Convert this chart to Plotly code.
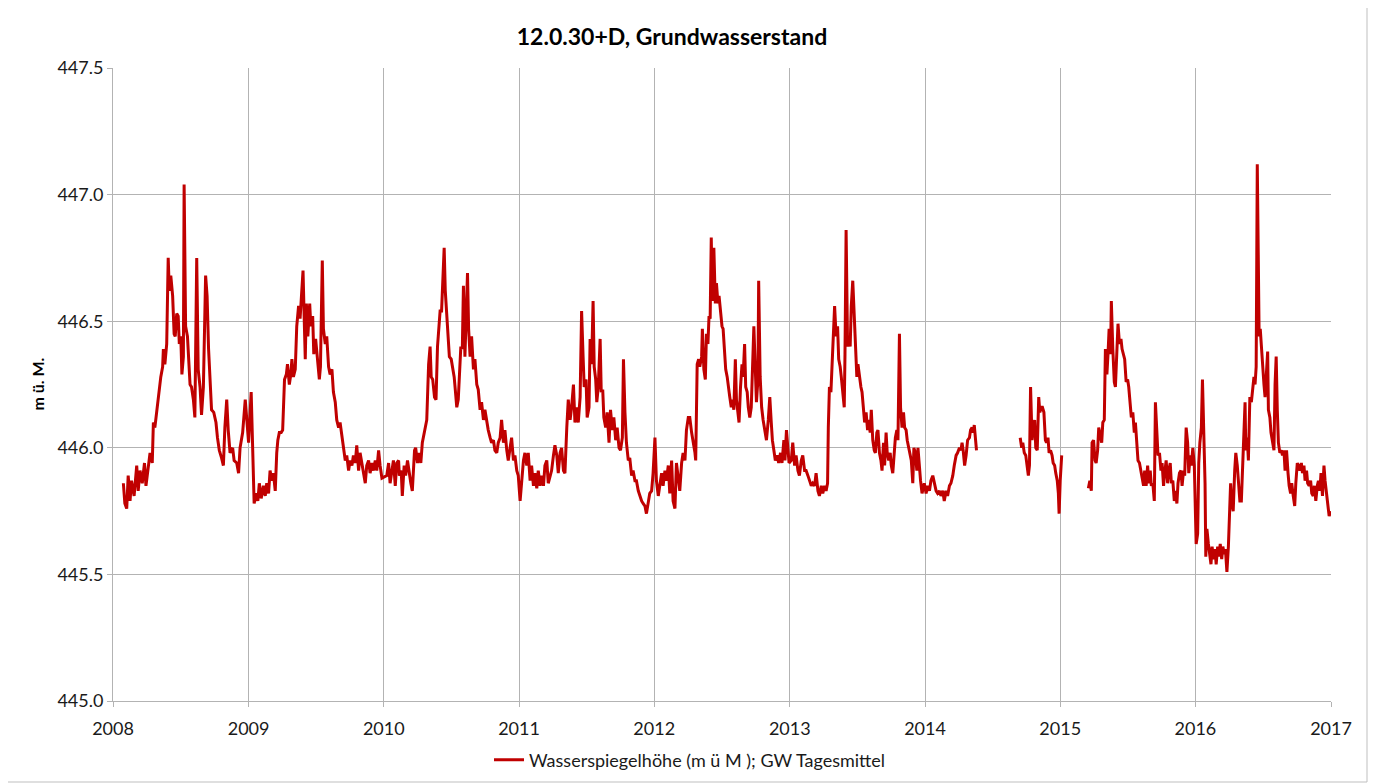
import pandas as pd
import plotly.graph_objects as go

# Groundwater level.
# days = day offset from 1 January of the given year, level in m ü. M.
# None marks a gap in the record.

days_2008 = [28, 32, 37, 41, 46, 50, 57, 64, 68, 73, 79, 85, 89, 95, 100, 106, 109, 113, 118, 125,
             129, 134, 136, 140, 145, 149, 152, 156, 161, 165, 168, 172, 176, 179, 183, 186, 190, 192, 196, 201,
             204, 208, 212, 217, 221, 226, 230, 235, 239, 244, 250, 254, 258, 262, 266, 272, 278, 282, 287, 293,
             298, 302, 307, 311, 316, 323, 327, 334, 339, 343, 350]
level_2008 = [445.86, 445.78, 445.76, 445.89, 445.79, 445.87, 445.81, 445.93, 445.83, 445.91, 445.86, 445.94,
              445.85, 445.91, 445.98, 445.94, 446.10, 446.08, 446.15, 446.23, 446.28, 446.32, 446.39, 446.33,
              446.41, 446.75, 446.62, 446.68, 446.60, 446.45, 446.44, 446.53, 446.52, 446.41, 446.44, 446.29,
              446.36, 447.04, 446.48, 446.44, 446.33, 446.25, 446.24, 446.19, 446.12, 446.75, 446.31, 446.24,
              446.13, 446.24, 446.68, 446.60, 446.39, 446.24, 446.15, 446.14, 446.10, 446.04, 445.99, 445.96,
              445.93, 446.08, 446.19, 446.07, 445.98, 446.00, 445.95, 445.94, 445.90, 446.00, 446.06]

days_2009 = [-9, -4, 0, 7, 11, 15, 21, 25, 29, 34, 40, 45, 49, 54, 58, 63, 67, 72, 76, 79,
             83, 88, 92, 97, 102, 105, 110, 114, 117, 121, 126, 130, 135, 139, 142, 147, 150, 153, 156, 160,
             165, 168, 173, 176, 181, 185, 191, 194, 199, 202, 207, 211, 216, 220, 225, 229, 234, 238, 243, 247,
             252, 256, 261, 265, 270, 274, 279, 283, 288, 292, 297, 301, 306, 310, 315, 319, 324, 328, 333, 337,
             342, 346, 351, 355, 360]
level_2009 = [446.19, 446.08, 446.02, 446.22, 446.03, 445.78, 445.82, 445.79, 445.86, 445.80, 445.85, 445.81,
              445.86, 445.82, 445.91, 445.87, 445.90, 445.83, 445.98, 446.03, 446.06, 446.06, 446.07, 446.27,
              446.29, 446.33, 446.25, 446.29, 446.35, 446.28, 446.31, 446.48, 446.56, 446.51, 446.58, 446.70,
              446.52, 446.35, 446.57, 446.44, 446.57, 446.48, 446.52, 446.37, 446.43, 446.36, 446.27, 446.32,
              446.74, 446.47, 446.41, 446.44, 446.32, 446.29, 446.31, 446.22, 446.18, 446.11, 446.08, 446.10,
              446.04, 445.99, 445.95, 445.97, 445.91, 445.95, 445.93, 445.97, 445.94, 446.01, 445.91, 445.98,
              445.94, 445.90, 445.86, 445.93, 445.95, 445.90, 445.94, 445.91, 445.95, 445.91, 445.99, 445.93,
              445.88]

days_2010 = [8, 13, 17, 22, 26, 31, 35, 40, 42, 47, 50, 55, 59, 64, 68, 73, 77, 83, 86, 91,
             95, 100, 104, 110, 116, 121, 125, 128, 132, 137, 141, 145, 148, 152, 156, 159, 163, 166, 170, 174,
             177, 182, 186, 190, 193, 197, 201, 204, 208, 212, 215, 219, 222, 226, 229, 233, 237, 242, 246, 251,
             255, 260, 264, 269, 273, 278, 282, 287, 291, 296, 300, 305, 309, 314, 318, 323, 327, 332, 336, 341,
             345, 350, 354, 359, 363, 368]
level_2010 = [445.89, 445.94, 445.86, 445.91, 445.95, 445.85, 445.94, 445.95, 445.89, 445.91, 445.81, 445.93,
              445.89, 445.95, 445.90, 445.86, 445.83, 445.99, 446.00, 445.94, 445.98, 445.94, 446.02, 446.06,
              446.11, 446.33, 446.40, 446.28, 446.27, 446.20, 446.19, 446.40, 446.47, 446.54, 446.54, 446.69,
              446.79, 446.62, 446.53, 446.41, 446.36, 446.35, 446.32, 446.28, 446.23, 446.16, 446.19, 446.29,
              446.40, 446.39, 446.64, 446.36, 446.53, 446.69, 446.47, 446.36, 446.44, 446.31, 446.35, 446.25,
              446.23, 446.15, 446.18, 446.11, 446.15, 446.10, 446.07, 446.04, 446.02, 446.03, 445.99, 445.98,
              446.02, 446.04, 446.11, 446.02, 446.07, 445.99, 445.95, 446.00, 446.04, 445.95, 445.97, 445.91,
              445.89, 445.79]

days_2011 = [7, 12, 16, 21, 25, 30, 34, 39, 43, 48, 52, 57, 61, 66, 70, 75, 79, 84, 88, 93,
             97, 102, 106, 111, 115, 120, 124, 129, 133, 138, 142, 147, 151, 156, 160, 165, 169, 173, 176, 181,
             184, 189, 192, 196, 200, 203, 207, 210, 214, 219, 222, 226, 229, 234, 238, 243, 247, 252, 256, 261,
             265, 270, 274, 279, 282, 286, 290, 295, 299, 304, 308, 313, 317, 322, 326, 331, 335, 340, 344, 349,
             353, 358, 362]
level_2011 = [445.87, 445.95, 445.98, 445.93, 445.98, 445.87, 445.93, 445.85, 445.90, 445.84, 445.91, 445.85,
              445.89, 445.85, 445.93, 445.95, 445.86, 445.89, 445.91, 445.97, 446.01, 445.97, 445.90, 445.98,
              446.00, 445.91, 445.90, 446.08, 446.19, 446.11, 446.16, 446.25, 446.10, 446.16, 446.10, 446.20,
              446.54, 446.36, 446.24, 446.27, 446.12, 446.16, 446.43, 446.33, 446.58, 446.32, 446.27, 446.18,
              446.24, 446.43, 446.22, 446.23, 446.12, 446.08, 446.14, 446.02, 446.15, 446.07, 446.12, 446.03,
              446.08, 446.00, 445.99, 446.04, 446.35, 446.14, 446.02, 445.95, 445.96, 445.89, 445.91, 445.87,
              445.87, 445.83, 445.81, 445.79, 445.78, 445.77, 445.74, 445.78, 445.82, 445.83, 445.90]

days_2012 = [2, 6, 11, 15, 20, 24, 29, 33, 38, 42, 47, 51, 56, 60, 65, 69, 74, 78, 83, 87,
             92, 96, 101, 105, 110, 112, 116, 120, 123, 128, 130, 134, 138, 141, 145, 148, 151, 154, 157, 161,
             165, 168, 172, 175, 179, 183, 186, 190, 193, 197, 201, 204, 208, 211, 215, 219, 222, 226, 229, 233,
             237, 240, 244, 247, 251, 254, 258, 262, 265, 269, 272, 276, 280, 282, 286, 290, 294, 299, 303, 308,
             312, 316, 319, 323, 327, 332, 336, 341, 345, 350, 353, 357, 361, 364]
level_2012 = [446.04, 445.87, 445.81, 445.86, 445.90, 445.85, 445.91, 445.87, 445.93, 445.82, 445.95, 445.79,
              445.76, 445.94, 445.89, 445.83, 445.94, 445.98, 445.95, 446.07, 446.12, 446.12, 446.06, 446.03,
              445.98, 445.95, 446.33, 446.35, 446.32, 446.36, 446.47, 446.31, 446.27, 446.45, 446.41, 446.52,
              446.51, 446.83, 446.58, 446.79, 446.57, 446.65, 446.57, 446.60, 446.52, 446.48, 446.47, 446.37,
              446.31, 446.28, 446.22, 446.20, 446.16, 446.19, 446.15, 446.35, 446.19, 446.15, 446.10, 446.24,
              446.33, 446.28, 446.41, 446.24, 446.22, 446.16, 446.12, 446.16, 446.33, 446.48, 446.35, 446.18,
              446.27, 446.66, 446.28, 446.16, 446.11, 446.06, 446.03, 446.11, 446.20, 446.10, 446.03, 445.99,
              445.95, 445.97, 445.94, 445.98, 445.94, 446.03, 445.95, 446.07, 445.98, 445.94]

days_2013 = [4, 8, 13, 17, 22, 26, 31, 35, 40, 44, 49, 53, 58, 62, 67, 71, 76, 80, 85, 89,
             94, 98, 102, 104, 107, 111, 114, 118, 121, 125, 129, 132, 136, 139, 143, 147, 149, 152, 156, 159,
             163, 166, 170, 174, 177, 181, 184, 188, 192, 195, 199, 202, 206, 210, 213, 217, 220, 224, 228, 231,
             235, 238, 242, 246, 249, 253, 256, 260, 263, 267, 271, 274, 278, 281, 285, 289, 292, 296, 299, 303,
             307, 310, 314, 317, 321, 325, 328, 332, 335, 339, 343, 346, 350, 353, 357, 361]
level_2013 = [445.95, 446.02, 445.93, 445.97, 445.91, 445.89, 445.95, 445.97, 445.91, 445.91, 445.89, 445.87,
              445.85, 445.86, 445.85, 445.90, 445.83, 445.81, 445.85, 445.82, 445.85, 445.83, 445.86, 446.08,
              446.24, 446.22, 446.33, 446.48, 446.56, 446.44, 446.48, 446.35, 446.32, 446.28, 446.22, 446.16,
              446.37, 446.86, 446.40, 446.44, 446.40, 446.56, 446.66, 446.53, 446.40, 446.28, 446.33, 446.28,
              446.24, 446.22, 446.16, 446.10, 446.14, 446.07, 446.11, 446.06, 446.15, 446.03, 445.99, 445.98,
              446.06, 446.07, 445.98, 445.95, 445.91, 446.02, 445.93, 446.06, 445.98, 445.95, 445.98, 445.93,
              445.90, 445.95, 446.04, 446.07, 446.03, 446.45, 446.16, 446.08, 446.14, 446.08, 446.07, 446.03,
              446.00, 445.98, 445.95, 445.86, 446.00, 445.98, 445.91, 446.00, 445.90, 445.87, 445.82, 445.85]

days_2014 = [-2, 3, 7, 12, 16, 21, 25, 30, 34, 39, 43, 48, 52, 57, 61, 66, 70, 75, 79, 84,
             88, 93, 97, 100, 103, 107, 111, 115, 120, 123, 127, 130, 133, 137, 139, 200,
             257, 261, 264, 268, 272, 275, 279, 282, 285, 289, 292, 296, 299, 303, 307, 310, 314, 317, 321, 325,
             328, 332, 335, 339, 343, 346, 350, 353, 357, 360, 362, 365, 369, 372]
level_2014 = [445.86, 445.82, 445.85, 445.83, 445.87, 445.89, 445.86, 445.83, 445.82, 445.83, 445.81, 445.83,
              445.79, 445.83, 445.81, 445.85, 445.86, 445.89, 445.93, 445.97, 445.98, 446.00, 445.99, 446.02,
              445.99, 445.93, 445.97, 446.03, 446.04, 446.07, 446.08, 446.06, 446.09, 446.03, 445.99, None,
              446.04, 446.00, 446.02, 445.98, 445.97, 445.93, 445.89, 445.93, 446.24, 446.03, 446.08, 446.11,
              446.00, 445.99, 446.20, 446.14, 446.16, 446.16, 446.14, 446.03, 446.02, 446.04, 445.98, 445.99,
              445.97, 445.94, 445.93, 445.90, 445.87, 445.82, 445.74, 445.87, 445.97, None]

days_2015 = [76, 80, 84, 86, 90, 94, 97, 101, 104, 108, 112, 115, 119, 122, 126, 129, 132, 136, 138, 142,
             146, 149, 153, 156, 160, 164, 167, 171, 174, 178, 182, 185, 189, 192, 196, 200, 203, 207, 210, 214,
             218, 221, 225, 228, 232, 236, 239, 243, 246, 250, 254, 257, 261, 264, 268, 272, 275, 279, 282, 286,
             290, 293, 297, 300, 304, 308, 311, 315, 318, 322, 326, 329, 333, 336, 340, 344, 347, 351, 354, 358,
             362]
level_2015 = [445.84, 445.87, 445.83, 446.02, 446.03, 445.95, 445.94, 445.99, 446.08, 446.04, 446.02, 446.10,
              446.11, 446.39, 446.29, 446.37, 446.47, 446.37, 446.58, 446.39, 446.26, 446.24, 446.36, 446.49,
              446.41, 446.43, 446.39, 446.37, 446.35, 446.26, 446.27, 446.24, 446.18, 446.12, 446.14, 446.06,
              446.10, 445.98, 445.95, 445.94, 445.91, 445.89, 445.85, 445.91, 445.85, 445.93, 445.86, 445.91,
              445.85, 445.86, 445.79, 446.18, 446.07, 445.97, 445.98, 445.91, 445.94, 445.85, 445.90, 445.95,
              445.86, 445.91, 445.94, 445.86, 445.87, 445.79, 445.83, 445.78, 445.86, 445.90, 445.91, 445.85,
              445.91, 445.89, 446.08, 446.02, 445.90, 445.97, 445.93, 446.00, 445.93]

days_2016 = [0, 2, 6, 9, 12, 16, 19, 23, 26, 28, 31, 35, 38, 42, 45, 49, 53, 56, 60, 63,
             67, 71, 74, 78, 81, 85, 89, 91, 95, 98, 102, 106, 109, 113, 116, 120, 124, 127, 131, 134,
             136, 140, 143, 147, 151, 154, 158, 161, 164, 167, 170, 172, 175, 178, 181, 185, 188, 192, 195, 197,
             201, 204, 208, 212, 215, 218, 221, 224, 228, 232, 235, 239, 242, 246, 250, 253, 257, 260, 264, 268,
             271, 275, 278, 282, 286, 289, 293, 296, 300, 303, 307, 311, 314, 318, 321, 325, 329, 332, 336, 339,
             343, 347, 350, 354, 358, 361, 365]
level_2016 = [445.79, 445.62, 445.66, 445.94, 446.02, 446.08, 446.27, 446.06, 445.86, 445.57, 445.68, 445.62,
              445.58, 445.54, 445.61, 445.56, 445.60, 445.54, 445.61, 445.57, 445.62, 445.56, 445.61, 445.58,
              445.60, 445.51, 445.61, 445.73, 445.86, 445.78, 445.75, 445.91, 445.98, 445.93, 445.86, 445.79,
              445.79, 445.93, 446.04, 446.18, 445.99, 446.04, 445.95, 446.20, 446.18, 446.23, 446.28, 446.25,
              446.32, 447.12, 446.49, 446.44, 446.47, 446.39, 446.32, 446.25, 446.20, 446.28, 446.38, 446.15,
              446.12, 446.06, 446.02, 445.99, 446.25, 446.36, 446.15, 446.02, 445.98, 445.99, 445.97, 445.99,
              445.91, 445.99, 445.90, 445.85, 445.82, 445.86, 445.81, 445.77, 445.86, 445.94, 445.93, 445.91,
              445.94, 445.90, 445.93, 445.87, 445.91, 445.86, 445.85, 445.87, 445.82, 445.81, 445.85, 445.79,
              445.85, 445.87, 445.83, 445.90, 445.81, 445.93, 445.87, 445.81, 445.77, 445.73, 445.75]

series = {
    2008: (days_2008, level_2008),
    2009: (days_2009, level_2009),
    2010: (days_2010, level_2010),
    2011: (days_2011, level_2011),
    2012: (days_2012, level_2012),
    2013: (days_2013, level_2013),
    2014: (days_2014, level_2014),
    2015: (days_2015, level_2015),
    2016: (days_2016, level_2016),
}

dates = []
levels = []
for yr, (d, v) in series.items():
    base = pd.Timestamp(f"{yr}-01-01")
    for dd, vv in zip(d, v):
        dates.append(base + pd.Timedelta(days=dd))
        levels.append(vv)

title_text = "12.0.30+D, Grundwasserstand"
y_title = "m ü. M."
legend_name = "Wasserspiegelhöhe (m ü M ); GW Tagesmittel"

FONT = "Lato, 'Open Sans', sans-serif"
GRID = "#b3b3b3"

# the page body adds an 8px offset, so everything is placed relative to that
fig = go.Figure()
fig.add_trace(go.Scatter(x=dates, y=levels, mode="lines", name=legend_name,
                         line=dict(color="#c00000", width=3), connectgaps=False))

fig.update_layout(
    width=1380, height=784,
    margin=dict(l=105, r=57, t=60, b=91, autoexpand=False),
    paper_bgcolor="white", plot_bgcolor="white",
    font=dict(family=FONT, size=18, color="#1a1a1a"),
    title=dict(text="<b>" + title_text + "</b>", x=664 / 1380, xanchor="center", xref="container",
               y=1 - 29 / 784, yanchor="middle", yref="container", font=dict(size=23, color="#000")),
    showlegend=True,
    legend=dict(orientation="h", xref="container", yref="container", x=682 / 1380, xanchor="center",
                y=1 - 752 / 784, yanchor="middle", font=dict(size=18)),
)

fig.update_xaxes(
    type="date", range=["2008-01-01", "2017-01-01"], dtick="M12", tick0="2008-01-01", tickformat="%Y",
    showgrid=True, gridcolor=GRID, gridwidth=1, showline=True, linecolor=GRID, linewidth=1,
    ticks="outside", ticklen=5, tickcolor=GRID, tickfont=dict(size=18), zeroline=False,
    ticklabelstandoff=6, automargin=False,
)
fig.update_yaxes(
    range=[445.0, 447.5], dtick=0.5, tick0=445.0, tickformat=".1f",
    showgrid=True, gridcolor=GRID, gridwidth=1, showline=True, linecolor=GRID, linewidth=1,
    ticks="outside", ticklen=5, tickcolor=GRID, tickfont=dict(size=18), zeroline=False,
    automargin=False,
)

# y-axis title placed like the Excel chart
fig.add_annotation(text="<b>" + y_title + "</b>", xref="paper", yref="paper",
                   x=(37 - 113) / 1218, y=0.5, xanchor="center", yanchor="middle",
                   textangle=-90, showarrow=False, font=dict(size=16, color="#000"))

# thin chart-area border
fig.add_shape(type="rect", xref="paper", yref="paper",
              x0=(2 - 113) / 1218, x1=(1367 - 113) / 1218,
              y0=(701 - 782) / 633, y1=(701 - 3) / 633,
              line=dict(color="#bfbfbf", width=1), fillcolor="rgba(0,0,0,0)", layer="below")

fig.write_html("out.html")
